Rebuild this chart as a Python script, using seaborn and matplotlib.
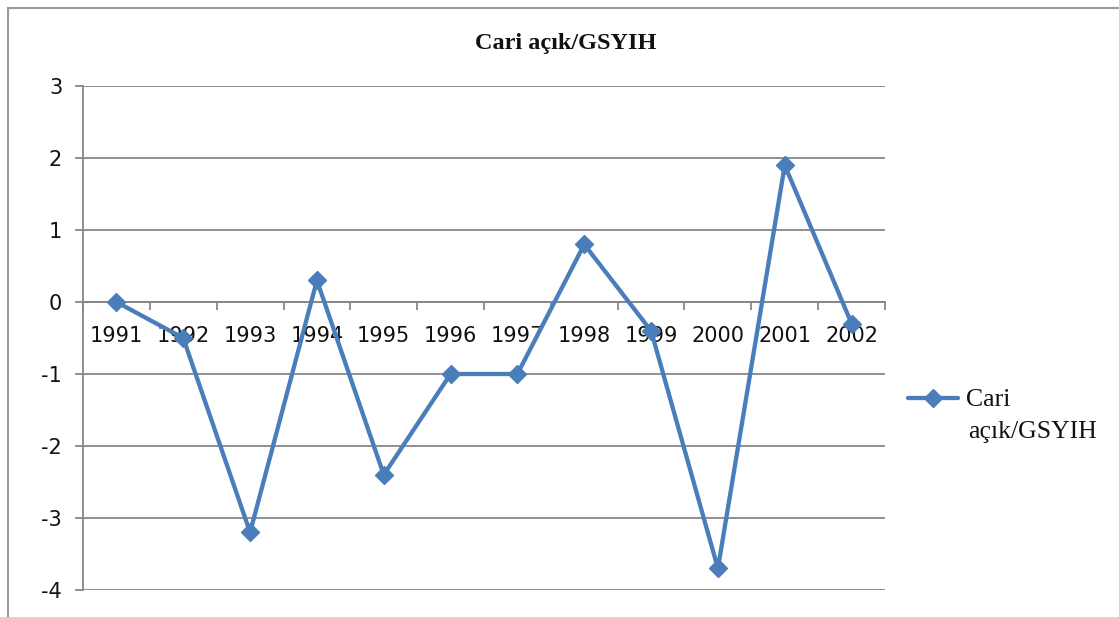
import matplotlib
matplotlib.use('Agg')
import matplotlib.pyplot as plt
import seaborn as sns
import pandas as pd
from matplotlib.patches import Rectangle
from matplotlib.ticker import FixedLocator

# ---- data ----
years = ['1991', '1992', '1993', '1994', '1995', '1996',
         '1997', '1998', '1999', '2000', '2001', '2002']
values = [0.0, -0.5, -3.2, 0.3, -2.4, -1.0, -1.0, 0.8, -0.4, -3.7, 1.9, -0.3]
series_name = 'Cari açık/GSYIH'
chart_title = 'Cari açık/GSYIH'
y_ticks = [-4, -3, -2, -1, 0, 1, 2, 3]

sns.set_theme(style='white')
plt.rcParams['font.family'] = ['DejaVu Sans']

W, H = 1119, 617
fig = plt.figure(figsize=(W / 100, H / 100), dpi=100)
fig.patch.set_facecolor('white')

# outer chart border
fig.patches.append(Rectangle((8 / W, -0.01), 1.2, (H - 8) / H + 0.01,
                             transform=fig.transFigure, fill=False,
                             edgecolor='#9a9a9a', lw=1.5))

ax = fig.add_axes([83 / W, 1 - 590 / H, (885 - 83) / W, (590 - 86) / H])
ax.set_facecolor('white')

df = pd.DataFrame({'Yıl': years, 'Değer': values})
first, rest = series_name.split(' ', 1)
blue = '#4A7EBB'
sns.lineplot(data=df, x='Yıl', y='Değer', ax=ax, color=blue, lw=3.1,
             marker='D', markersize=9.5, markeredgecolor=blue,
             markeredgewidth=1, zorder=4, label=first, sort=False)

grid_c = '#878787'
ax.set_ylim(-4, 3)
ax.set_xlim(-0.5, len(years) - 0.5)
ax.set_yticks(y_ticks)
ax.set_yticklabels([str(t) for t in y_ticks])
ax.yaxis.grid(True, color=grid_c, lw=1.3)
ax.xaxis.grid(False)
ax.set_axisbelow(True)

for s in ['top', 'right']:
    ax.spines[s].set_visible(False)
ax.spines['left'].set_color(grid_c)
ax.spines['left'].set_linewidth(1.3)
ax.spines['bottom'].set_position(('data', 0))
ax.spines['bottom'].set_color(grid_c)
ax.spines['bottom'].set_linewidth(1.3)

ax.set_xticks(range(len(years)))
ax.set_xticklabels(years)
ax.xaxis.set_minor_locator(FixedLocator([i - 0.5 for i in range(len(years) + 1)]))
ax.tick_params(axis='x', which='major', length=0, pad=17.5, labelsize=15,
               labelcolor='#111111')
ax.tick_params(axis='x', which='minor', length=5.5, width=1.3, color=grid_c,
               direction='out', bottom=True)
ax.tick_params(axis='y', which='major', length=6, width=1.3, color=grid_c,
               direction='out', left=True, pad=9, labelsize=15,
               labelcolor='#111111')
ax.set_xlabel('')
ax.set_ylabel('')

# title
fig.text(566 / W, 1 - 43 / H, chart_title, ha='center', va='center',
         fontsize=17.5, fontweight='bold', family='Liberation Serif',
         color='#111111')

# legend
leg = ax.legend(loc='center left', bbox_to_anchor=(908 / W, 1 - 400 / H),
                bbox_transform=fig.transFigure, frameon=False,
                handlelength=1.95, handletextpad=0.3, borderpad=0,
                borderaxespad=0,
                prop={'family': 'Liberation Serif', 'size': 18.5})
for t in leg.get_texts():
    t.set_color('#111111')
fig.text(968 / W, 1 - 432 / H, rest, ha='left', va='center',
         fontsize=18.5, family='Liberation Serif', color='#111111')

fig.savefig('out.png', dpi=100, facecolor='white')
